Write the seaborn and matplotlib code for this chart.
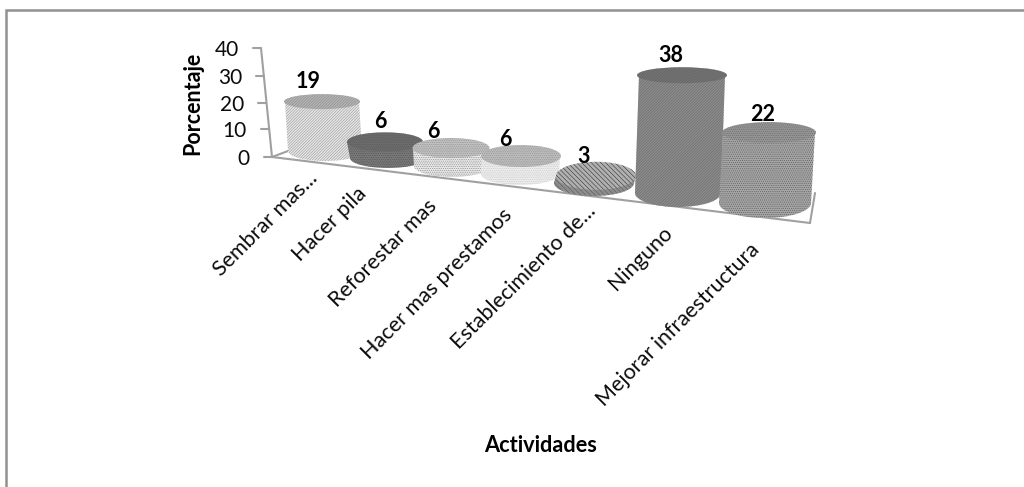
import matplotlib
matplotlib.use("Agg")
import matplotlib.pyplot as plt
import seaborn as sns
import pandas as pd
from matplotlib.patches import Ellipse
from matplotlib.transforms import Affine2D

# ---- data ----
categories = ["Sembrar mas...", "Hacer pila", "Reforestar mas", "Hacer mas prestamos",
              "Establecimiento de...", "Ninguno", "Mejorar infraestructura"]
values = [19, 6, 6, 6, 3, 38, 22]
y_ticks = [0, 10, 20, 30, 40]

# ---- layout (pixel geometry of the pseudo-3D projection) ----
base_cx   = [325, 388, 452, 520, 594, 678, 765]
base_cy   = [151, 158, 166, 174, 183, 193, 203]
base_hw   = [37, 38, 38, 39, 40, 43, 46]
top_hw    = [38, 38, 38.5, 40, 40, 45, 47]
top_shift = [-3, -3, -1, 1, 2, 4, 4]
top_rh    = [7.5, 9.5, 10, 11, 14, 8, 10.5]
bot_rh    = [10, 10, 11, 11, 13, 14, 15]
ppu       = [2.6, 2.7, 3.0, 3.0, 2.4, 3.1, 3.2]
lab_off   = [(-14, -20), (-5, -20), (-18, -17), (-16, -16), (-12, -19), (-11, -20), (-6, -18)]
lab_end   = [(314, 175), (363, 190), (434, 203), (509, 212), (593, 208), (669, 230), (756, 247)]
tick_axis = [(272, 157), (269, 129), (266, 103), (264, 76), (261, 48)]

# ---- styles ----
body_col  = ["#e6e6e6", "#7a7a7a", "#e8e8e8", "#ececec", "#8c8c8c", "#8c8c8c", "#a4a4a4"]
body_hat  = ["#8f8f8f", "#4a4a4a", "#7a7a7a", "#c4c4c4", "#555555", "#666666", "#555555"]
top_col   = ["#b4b4b4", "#6c6c6c", "#c0c0c0", "#bcbcbc", "#b0b0b0", "#747474", "#949494"]
top_hat   = ["#848484", "#585858", "#8a8a8a", "#8c8c8c", "#222222", "#5e5e5e", "#666666"]
patterns  = ["/" * 12, "." * 9, "." * 9, "." * 9, "\\" * 7, "/" * 12, "." * 8]
axis_col = "#a0a0a0"
frame_col = "#919191"
text_col = "#0c0c0c"

sns.set_theme(style="white")
plt.rcParams["font.family"] = ["Lato", "DejaVu Sans"]
plt.rcParams["hatch.linewidth"] = 0.35

fig = plt.figure(figsize=(10.24, 4.87), dpi=100)
ax = fig.add_axes([0, 0, 1, 1])
df = pd.DataFrame({"Actividades": categories, "Porcentaje": values})
sns.barplot(data=df, x="Actividades", y="Porcentaje", order=categories, ax=ax,
            width=0.8, errorbar=None, legend=False)
bars = list(ax.patches)
ax.set_xlim(0, 1024)
ax.set_ylim(487, 0)
ax.axis("off")

# frame: only the top and left edges are visible in the source
ax.plot([6, 6, 1024], [487, 10, 10], color=frame_col, lw=1.8, zorder=0.5,
        solid_joinstyle="miter", clip_on=True)

# floor and axes
for p, q in [((272, 157), (810, 223)), ((810, 223), (815, 193)), ((272, 157), (288, 151)),
             ((272, 157), (261, 48))]:
    ax.plot([p[0], q[0]], [p[1], q[1]], color=axis_col, lw=1.5, zorder=1)
for v, (tx, ty) in zip(y_ticks, tick_axis):
    ax.plot([tx - 8, tx], [ty, ty], color=axis_col, lw=1.5, zorder=1)
    ax.text(tx - 22, ty + 2, str(v), ha="right", va="center", fontsize=15, color=text_col)

# cylinders: each seaborn bar is projected into the pseudo-3D frame
for i, (patch, val) in enumerate(zip(bars, values)):
    h = patch.get_height()
    x0 = patch.get_x() + patch.get_width() / 2
    scale_x = base_hw[i] / (patch.get_width() / 2)
    lean = top_shift[i] / h
    mat = [[scale_x, lean, base_cx[i] - scale_x * x0],
           [0, -ppu[i], base_cy[i]],
           [0, 0, 1]]
    patch.set_transform(Affine2D(mat) + ax.transData)
    z = 2 + i * 0.1
    patch.set(facecolor=body_col[i], edgecolor=body_hat[i], hatch=patterns[i], linewidth=0, zorder=z)

    top_x = base_cx[i] + top_shift[i]
    top_y = base_cy[i] - h * ppu[i]
    ax.add_patch(Ellipse((base_cx[i], base_cy[i]), 2 * base_hw[i], 2 * bot_rh[i], fc=body_col[i],
                         ec=body_hat[i], hatch=patterns[i], lw=0, zorder=z - 0.01))
    ax.add_patch(Ellipse((top_x, top_y), 2 * top_hw[i], 2 * top_rh[i], fc=top_col[i],
                         ec=top_hat[i], hatch=patterns[i], lw=0, zorder=z + 0.01))
    ax.text(top_x + lab_off[i][0], top_y + lab_off[i][1], str(val), ha="center", va="center",
            fontsize=15.5, fontweight="bold", color="black", zorder=5)
    ax.text(lab_end[i][0], lab_end[i][1], categories[i], rotation=45, rotation_mode="anchor",
            ha="right", va="center", fontsize=15.5, color=text_col, zorder=5)

ax.text(193, 103, "Porcentaje", rotation=90, ha="center", va="center", fontsize=15.5,
        fontweight="bold", color="black")
ax.text(541, 446, "Actividades", ha="center", va="center", fontsize=15.7,
        fontweight="bold", color="black")

fig.savefig("out.png", dpi=100)
